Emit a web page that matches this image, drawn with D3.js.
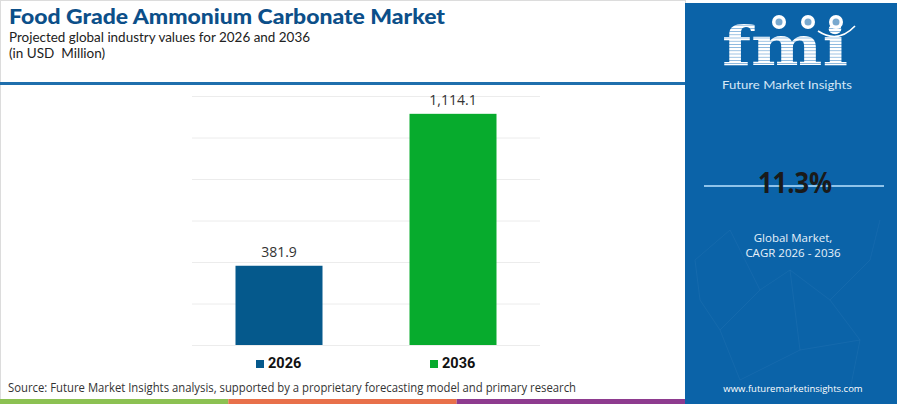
<!DOCTYPE html>
<meta charset="utf-8">
<head>
    <title>Food Grade Ammonium Carbonate Market</title>
</head>
<style>
    body { margin: 0; background: #fff; }
    svg { display: block; font-family: "Open Sans", sans-serif; }
</style>
<div id="chart"></div>
<script src="https://d3js.org/d3.v7.min.js"></script>
<script>
    // data
    var years = ["2026", "2036"];
    var values = [381.9, 1114.1];
    var barColors = ["#05598c", "#07ab2d"];
    var yTicks = [0, 200, 400, 600, 800, 1000, 1200];
    var cagr = "11.3%";

    var W = 900, H = 404;
    var svg = d3.select("#chart").append("svg")
        .attr("width", W)
        .attr("height", H);

    // frame of the left part
    svg.append("rect")
        .attr("x", 0.5).attr("y", 0.5)
        .attr("width", 685).attr("height", H - 1)
        .attr("fill", "#fff")
        .attr("stroke", "#dcdcdc");

    // header
    svg.append("text")
        .attr("x", 9).attr("y", 24)
        .attr("font-size", 21)
        .attr("font-weight", 900)
        .attr("font-family", "Lato, sans-serif")
        .attr("fill", "#0c4f89")
        .attr("textLength", 436)
        .attr("lengthAdjust", "spacingAndGlyphs")
        .text("Food Grade Ammonium Carbonate Market");
    svg.append("text")
        .attr("x", 9).attr("y", 42)
        .attr("font-size", 13.5)
        .attr("font-family", "Lato, sans-serif")
        .attr("fill", "#222")
        .attr("textLength", 301)
        .attr("lengthAdjust", "spacingAndGlyphs")
        .text("Projected global industry values for 2026 and 2036");
    svg.append("text")
        .attr("x", 9).attr("y", 58)
        .attr("font-size", 13.5)
        .attr("font-family", "Lato, sans-serif")
        .attr("fill", "#222")
        .attr("xml:space", "preserve")
        .text("(in USD  Million)");

    svg.append("rect")
        .attr("x", 0).attr("y", 82)
        .attr("width", 686).attr("height", 3)
        .attr("fill", "#1f6fad");

    // chart
    var x = d3.scaleBand()
        .domain(years)
        .range([192, 540])
        .paddingInner(0.5)
        .paddingOuter(0.25);
    var y = d3.scaleLinear()
        .domain([0, 1200])
        .range([345, 96]);

    var grid = svg.append("g")
        .attr("transform", "translate(192,0)")
        .call(d3.axisLeft(y).tickValues(yTicks).tickSize(-348).tickFormat(""));
    grid.select(".domain").remove();
    grid.selectAll(".tick line").attr("stroke", "#ececec");

    svg.selectAll("rect.bar")
        .data(values)
        .enter()
        .append("rect")
        .attr("class", "bar")
        .attr("x", function(d, i) { return x(years[i]); })
        .attr("y", function(d) { return y(d); })
        .attr("width", x.bandwidth())
        .attr("height", function(d) { return y(0) - y(d); })
        .attr("fill", function(d, i) { return barColors[i]; });

    svg.selectAll("text.val")
        .data(values)
        .enter()
        .append("text")
        .attr("class", "val")
        .attr("x", function(d, i) { return x(years[i]) + x.bandwidth() / 2; })
        .attr("y", function(d) { return y(d) - 9; })
        .attr("text-anchor", "middle")
        .attr("font-size", 14)
        .attr("fill", "#333")
        .text(function(d) { return d3.format(",.1f")(d); });

    // legend under each bar
    var leg = svg.selectAll("g.leg")
        .data(years)
        .enter()
        .append("g")
        .attr("class", "leg")
        .attr("transform", function(d) { return "translate(" + (x(d) + x.bandwidth() / 2) + ",368)"; });
    leg.append("rect")
        .attr("x", -23).attr("y", -8)
        .attr("width", 8).attr("height", 8)
        .attr("fill", function(d, i) { return barColors[i]; });
    leg.append("text")
        .attr("x", -11).attr("y", 0)
        .attr("font-size", 14.5)
        .attr("font-weight", 700)
        .attr("font-family", "Roboto, sans-serif")
        .attr("fill", "#111")
        .text(function(d) { return d; });

    // source
    svg.append("text")
        .attr("x", 8).attr("y", 392)
        .attr("font-size", 12)
        .attr("fill", "#333")
        .attr("textLength", 568)
        .attr("lengthAdjust", "spacingAndGlyphs")
        .text("Source: Future Market Insights analysis, supported by a proprietary forecasting model and primary research");

    // bottom stripe
    var stripe = ["#8cc152", "#e8704a", "#8e3b8f"];
    var sx = d3.scaleBand().domain(d3.range(stripe.length)).range([0, 685]);
    svg.selectAll("rect.stripe")
        .data(stripe)
        .enter()
        .append("rect")
        .attr("class", "stripe")
        .attr("x", function(d, i) { return sx(i); })
        .attr("y", 399)
        .attr("width", sx.bandwidth())
        .attr("height", 5)
        .attr("fill", function(d) { return d; });

    // right panel
    svg.append("rect")
        .attr("x", 685).attr("y", 3)
        .attr("width", 212).attr("height", H - 3)
        .attr("fill", "#0b63a8");

    // faint network in the panel
    var net = svg.append("g").attr("stroke", "#5a9ad0").attr("stroke-opacity", 0.2).attr("stroke-width", 0.6);
    var pts = [[695,260],[730,230],[760,290],[720,330],[790,270],[830,300],[870,260],[860,340],[800,350],[740,380],[880,220],[700,300],[850,390]];
    var links = [[0,1],[1,2],[2,3],[2,4],[4,5],[5,6],[5,7],[7,8],[8,9],[3,9],[6,10],[0,11],[11,3],[7,12],[4,8]];
    net.selectAll("line")
        .data(links)
        .enter()
        .append("line")
        .attr("x1", function(d) { return pts[d[0]][0]; })
        .attr("y1", function(d) { return pts[d[0]][1]; })
        .attr("x2", function(d) { return pts[d[1]][0]; })
        .attr("y2", function(d) { return pts[d[1]][1]; });

    // logo
    var defs = svg.append("defs");
    var pat = defs.append("pattern")
        .attr("id", "stripes")
        .attr("patternUnits", "userSpaceOnUse")
        .attr("width", 10).attr("height", 3.2);
    pat.append("rect").attr("width", 10).attr("height", 3.2).attr("fill", "#ffffff");
    pat.append("rect").attr("y", 2.4).attr("width", 10).attr("height", 0.8).attr("fill", "#7fb0da");

    svg.append("text")
        .attr("x", 722).attr("y", 65)
        .attr("font-size", 55)
        .attr("font-weight", 700)
        .attr("font-family", "DejaVu Serif, serif")
        .attr("fill", "url(#stripes)")
        .attr("textLength", 126)
        .attr("lengthAdjust", "spacingAndGlyphs")
        .text("fmi");

    var globes = [779, 808, 836];
    svg.selectAll("circle.globe")
        .data(globes)
        .enter()
        .append("circle")
        .attr("class", "globe")
        .attr("cx", function(d) { return d; })
        .attr("cy", 22)
        .attr("r", 7)
        .attr("fill", "#ffffff");
    svg.selectAll("circle.land")
        .data(globes)
        .enter()
        .append("circle")
        .attr("cx", function(d) { return d; })
        .attr("cy", 22)
        .attr("r", 3.5)
        .attr("fill", "#0b63a8")
        .attr("opacity", 0.55);
    svg.append("path")
        .attr("d", "M818,31 Q838,44 855,26")
        .attr("fill", "none")
        .attr("stroke", "#ffffff")
        .attr("stroke-width", 1.6);

    svg.append("text")
        .attr("x", 722).attr("y", 89)
        .attr("font-size", 12)
        .attr("font-family", "Lato, sans-serif")
        .attr("fill", "#d6e8f7")
        .attr("textLength", 130)
        .attr("lengthAdjust", "spacingAndGlyphs")
        .text("Future Market Insights");

    // CAGR
    svg.append("line")
        .attr("x1", 704).attr("x2", 884)
        .attr("y1", 186).attr("y2", 186)
        .attr("stroke", "#8fc3ea")
        .attr("stroke-width", 2);
    svg.append("text")
        .attr("x", 795).attr("y", 193)
        .attr("text-anchor", "middle")
        .attr("font-size", 29)
        .attr("font-weight", 700)
        .attr("fill", "#1a1a1a")
        .attr("textLength", 74)
        .attr("lengthAdjust", "spacingAndGlyphs")
        .text(cagr);

    svg.append("text")
        .attr("x", 793).attr("y", 242)
        .attr("text-anchor", "middle")
        .attr("font-size", 11.5)
        .attr("fill", "#e6f1fa")
        .text("Global Market,");
    svg.append("text")
        .attr("x", 793).attr("y", 257)
        .attr("text-anchor", "middle")
        .attr("font-size", 11.5)
        .attr("fill", "#e6f1fa")
        .text("CAGR 2026 - 2036");

    svg.append("text")
        .attr("x", 793).attr("y", 392)
        .attr("text-anchor", "middle")
        .attr("font-size", 9.5)
        .attr("fill", "#ffffff")
        .text("www.futuremarketinsights.com");
</script>
